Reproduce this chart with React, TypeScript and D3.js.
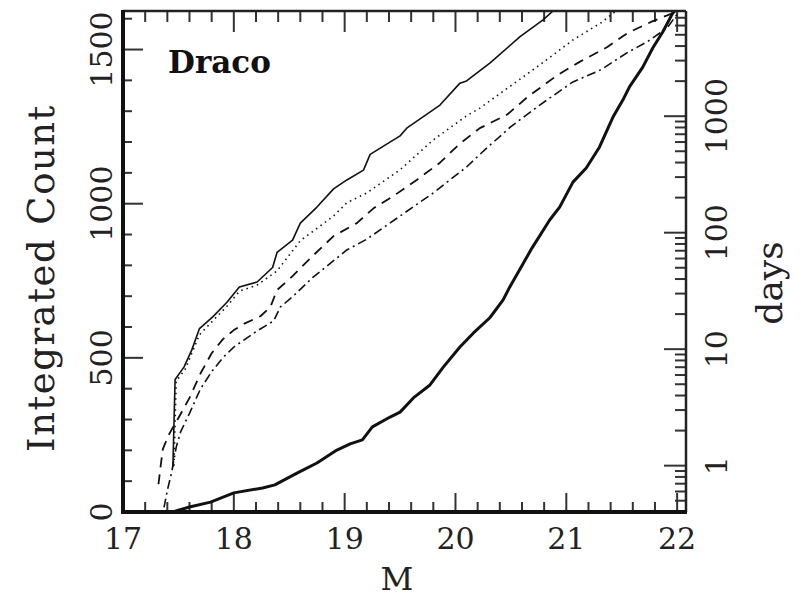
import React, { useEffect, useRef } from 'react';
import * as d3 from 'd3';

type Pt = [number, number]; // [M, integrated count]

// thin solid curve (upper envelope)
const thinSolid: Pt[] = [
    [17.45, 146], [17.47, 430], [17.55, 470], [17.62, 525], [17.69, 595], [17.81, 633],
    [17.94, 681], [18.05, 730], [18.21, 746], [18.35, 793], [18.39, 842], [18.53, 882],
    [18.6, 937], [18.75, 989], [18.9, 1048], [19.02, 1077], [19.17, 1109], [19.23, 1160],
    [19.5, 1220], [19.56, 1245], [19.86, 1320], [20.04, 1391], [20.1, 1398], [20.31, 1456],
    [20.58, 1541], [20.79, 1596], [20.88, 1625]
];

// dotted curve
const dotted: Pt[] = [
    [17.46, 150], [17.48, 425], [17.56, 462], [17.69, 575], [17.81, 620], [17.94, 668],
    [18.05, 716], [18.21, 736], [18.39, 782], [18.6, 880], [18.9, 960], [19.02, 1003],
    [19.2, 1035], [19.5, 1110], [19.8, 1207], [20.1, 1285], [20.22, 1310], [20.47, 1375],
    [20.76, 1450], [21.06, 1531], [21.31, 1586], [21.45, 1625]
];

// dashed curve
const dashed: Pt[] = [
    [17.32, 90], [17.34, 150], [17.36, 205], [17.42, 255], [17.5, 305], [17.6, 370],
    [17.7, 450], [17.8, 515], [17.9, 560], [18.0, 590], [18.1, 612], [18.24, 635],
    [18.33, 665], [18.39, 720], [18.53, 765], [18.71, 830], [18.9, 895], [19.11, 937],
    [19.26, 985], [19.44, 1025], [19.65, 1077], [19.86, 1133], [20.04, 1195], [20.22, 1245],
    [20.47, 1290], [20.65, 1346], [20.92, 1417], [21.12, 1460], [21.37, 1508], [21.55, 1553],
    [21.78, 1592], [21.94, 1615], [22.02, 1625]
];

// dash-dot curve
const dashDot: Pt[] = [
    [17.37, 15], [17.4, 70], [17.44, 130], [17.48, 210], [17.52, 260], [17.6, 320],
    [17.7, 400], [17.8, 455], [17.9, 500], [18.0, 535], [18.1, 560], [18.2, 585],
    [18.36, 620], [18.42, 665], [18.53, 698], [18.71, 760], [18.9, 815], [19.02, 850],
    [19.2, 885], [19.5, 960], [19.8, 1035], [20.1, 1119], [20.25, 1170], [20.5, 1250],
    [20.76, 1320], [21.06, 1395], [21.31, 1434], [21.55, 1490], [21.73, 1525], [21.91, 1570],
    [22.02, 1625]
];

// thick solid curve (lower)
const thickSolid: Pt[] = [
    [17.47, 3], [17.6, 16], [17.79, 32], [18.0, 62], [18.26, 78], [18.37, 88], [18.57, 126],
    [18.75, 159], [18.93, 201], [19.05, 221], [19.16, 234], [19.25, 276], [19.41, 308],
    [19.5, 324], [19.62, 370], [19.77, 412], [19.89, 470], [20.04, 535], [20.16, 580],
    [20.31, 630], [20.43, 688], [20.49, 730], [20.69, 856], [20.85, 947], [20.94, 989],
    [21.06, 1070], [21.18, 1116], [21.3, 1184], [21.42, 1280], [21.51, 1336], [21.57, 1379],
    [21.69, 1443], [21.78, 1505], [21.87, 1557], [21.96, 1618], [21.98, 1625]
];

const xTicks = [17, 18, 19, 20, 21, 22];
const countTicks = [0, 500, 1000, 1500];
const dayTicks = [1, 10, 100, 1000];

const FONT = '"DejaVu Serif", serif';

const App: React.FC = () => {
    const svgRef = useRef<SVGSVGElement>(null);

    useEffect(() => {
        if (!svgRef.current) return;
        const svg = d3.select(svgRef.current);
        svg.selectAll('*').remove();

        const left = 123, right = 686, top = 11, bottom = 512;

        const x = d3.scaleLinear().domain([17, 22.08]).range([left, right]);
        const y = d3.scaleLinear().domain([0, 1625]).range([bottom, top]);
        const yDays = d3.scaleLog().domain([0.4, 8000]).range([bottom, top]);

        const tickColor = '#333';

        // x ticks, bottom and top, every 0.2
        const xMinor = d3.range(0, 26).map(i => 17 + i * 0.2);
        xMinor.forEach(v => {
            const major = Math.abs(v - Math.round(v)) < 1e-6;
            svg.append('line')
                .attr('x1', x(v)).attr('x2', x(v))
                .attr('y1', bottom).attr('y2', bottom - (major ? 19 : 10))
                .attr('stroke', tickColor).attr('stroke-width', 2);
            svg.append('line')
                .attr('x1', x(v)).attr('x2', x(v))
                .attr('y1', top).attr('y2', top + (major ? 21 : 11))
                .attr('stroke', tickColor).attr('stroke-width', 2);
        });

        // left count ticks every 100
        d3.range(0, 1700, 100).filter(v => v <= 1625).forEach(v => {
            const major = v % 500 === 0;
            svg.append('line')
                .attr('x1', left).attr('x2', left + (major ? 20 : 9))
                .attr('y1', y(v)).attr('y2', y(v))
                .attr('stroke', tickColor).attr('stroke-width', 2);
        });

        // right log ticks
        for (let k = -1; k <= 3; k++) {
            for (let m = 1; m <= 9; m++) {
                const v = m * Math.pow(10, k);
                if (v < 0.4 || v > 8000) continue;
                svg.append('line')
                    .attr('x1', right).attr('x2', right - (m === 1 ? 22 : 11))
                    .attr('y1', yDays(v)).attr('y2', yDays(v))
                    .attr('stroke', tickColor).attr('stroke-width', 2);
            }
        }

        // curves
        svg.append('clipPath').attr('id', 'plot-clip')
            .append('rect')
            .attr('x', left).attr('y', top)
            .attr('width', right - left).attr('height', bottom - top);

        const line = d3.line<Pt>()
            .x(d => x(d[0]))
            .y(d => y(d[1]));

        const series = [
            { data: thinSolid, width: 1.6, dash: null },
            { data: dotted, width: 1.6, dash: '1.5,4' },
            { data: dashed, width: 1.8, dash: '10,7' },
            { data: dashDot, width: 1.6, dash: '9,4,2,4' },
            { data: thickSolid, width: 3, dash: null }
        ];

        const g = svg.append('g').attr('clip-path', 'url(#plot-clip)');
        series.forEach(s => {
            g.append('path')
                .datum(s.data)
                .attr('fill', 'none')
                .attr('stroke', '#111')
                .attr('stroke-width', s.width)
                .attr('stroke-linejoin', 'round')
                .attr('stroke-dasharray', s.dash)
                .attr('d', line);
        });

        // frame
        svg.append('line').attr('x1', left).attr('x2', right).attr('y1', top).attr('y2', top)
            .attr('stroke', '#222').attr('stroke-width', 2.5);
        svg.append('line').attr('x1', right).attr('x2', right).attr('y1', top).attr('y2', bottom)
            .attr('stroke', '#222').attr('stroke-width', 2.5);
        svg.append('line').attr('x1', left).attr('x2', left).attr('y1', top - 1).attr('y2', bottom + 2)
            .attr('stroke', '#111').attr('stroke-width', 4);
        svg.append('line').attr('x1', left - 2).attr('x2', right + 1).attr('y1', bottom).attr('y2', bottom)
            .attr('stroke', '#111').attr('stroke-width', 4);

        // tick labels
        xTicks.forEach(v => {
            svg.append('text')
                .attr('x', x(v)).attr('y', 549)
                .attr('text-anchor', 'middle')
                .attr('font-family', FONT).attr('font-size', 30)
                .attr('fill', '#222')
                .text(String(v));
        });
        countTicks.forEach(v => {
            svg.append('text')
                .attr('transform', `translate(112,${y(v)}) rotate(-90)`)
                .attr('text-anchor', 'middle')
                .attr('font-family', FONT).attr('font-size', 30)
                .attr('fill', '#222')
                .text(String(v));
        });
        dayTicks.forEach(v => {
            svg.append('text')
                .attr('transform', `translate(727,${yDays(v)}) rotate(-90)`)
                .attr('text-anchor', 'middle')
                .attr('font-family', FONT).attr('font-size', 30)
                .attr('fill', '#222')
                .text(String(v));
        });

        // axis titles
        svg.append('text')
            .attr('x', 397).attr('y', 590)
            .attr('text-anchor', 'middle')
            .attr('font-family', FONT).attr('font-size', 32)
            .attr('fill', '#222')
            .text('M');
        svg.append('text')
            .attr('transform', 'translate(54,278) rotate(-90)')
            .attr('text-anchor', 'middle')
            .attr('font-family', FONT).attr('font-size', 37)
            .attr('letter-spacing', 1.5)
            .attr('fill', '#222')
            .text('Integrated Count');
        svg.append('text')
            .attr('transform', 'translate(782,283) rotate(-90)')
            .attr('text-anchor', 'middle')
            .attr('font-family', FONT).attr('font-size', 36)
            .attr('fill', '#222')
            .text('days');

        // label
        svg.append('text')
            .attr('x', 168).attr('y', 73)
            .attr('font-family', FONT).attr('font-size', 31)
            .attr('font-weight', 'bold')
            .attr('fill', '#111')
            .text('Draco');
    }, []);

    return (
        <svg ref={svgRef} width={802} height={600}
            style={{ position: 'absolute', left: 0, top: 0, background: '#fff' }} />
    );
};

export default App;
